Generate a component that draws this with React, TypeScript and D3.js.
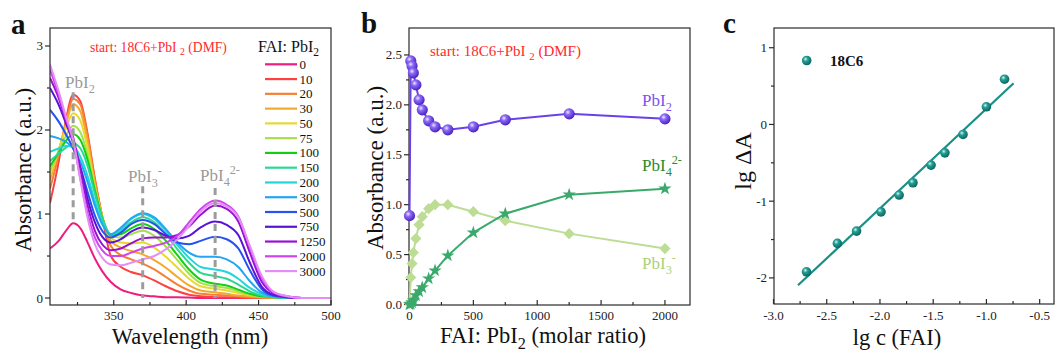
import React from 'react';
import * as d3 from 'd3';

const FONT = '"Liberation Serif", "DejaVu Serif", "Times New Roman", Times, serif';

// ---------------- Panel a data ----------------
const wavelengths = [306, 312, 317, 322, 327, 332, 337, 342, 348, 355, 362, 370, 378, 386, 394, 402, 410, 420, 428, 436, 444, 452, 460, 470, 480, 490, 500];
const faiRatios = ['0', '10', '20', '30', '50', '75', '100', '150', '200', '300', '500', '750', '1250', '2000', '3000'];
const spectrum0 = [0.59, 0.68, 0.80, 0.89, 0.83, 0.66, 0.47, 0.32, 0.19, 0.10, 0.06, 0.03, 0.02, 0.01, 0.01, 0.005, 0, 0, 0, 0, 0, 0, 0, 0, 0, 0, 0];
const spectrum10 = [1.13, 1.62, 2.12, 2.42, 2.34, 1.95, 1.42, 0.97, 0.50, 0.37, 0.31, 0.27, 0.21, 0.14, 0.08, 0.04, 0.02, 0.01, 0.01, 0.005, 0, 0, 0, 0, 0, 0, 0];
const spectrum20 = [1.30, 1.70, 2.08, 2.37, 2.30, 1.92, 1.40, 0.98, 0.62, 0.51, 0.46, 0.41, 0.34, 0.25, 0.16, 0.09, 0.05, 0.04, 0.03, 0.02, 0.01, 0.005, 0, 0, 0, 0, 0];
const spectrum30 = [1.40, 1.76, 2.07, 2.31, 2.22, 1.86, 1.36, 0.97, 0.68, 0.60, 0.56, 0.52, 0.45, 0.36, 0.25, 0.15, 0.09, 0.07, 0.05, 0.03, 0.02, 0.01, 0.005, 0, 0, 0, 0];
const spectrum50 = [1.46, 1.76, 2.02, 2.20, 2.11, 1.78, 1.33, 0.97, 0.72, 0.66, 0.65, 0.66, 0.60, 0.49, 0.36, 0.23, 0.14, 0.11, 0.09, 0.06, 0.03, 0.02, 0.01, 0, 0, 0, 0];
const spectrum75 = [1.52, 1.74, 1.93, 2.05, 1.97, 1.70, 1.30, 0.96, 0.74, 0.72, 0.76, 0.80, 0.74, 0.61, 0.45, 0.29, 0.18, 0.14, 0.12, 0.08, 0.04, 0.02, 0.01, 0, 0, 0, 0];
const spectrum100 = [1.57, 1.73, 1.87, 1.95, 1.88, 1.64, 1.28, 0.96, 0.75, 0.76, 0.83, 0.88, 0.82, 0.68, 0.51, 0.34, 0.22, 0.17, 0.15, 0.10, 0.05, 0.02, 0.01, 0, 0, 0, 0];
const spectrum150 = [1.63, 1.72, 1.79, 1.84, 1.78, 1.57, 1.24, 0.95, 0.76, 0.80, 0.90, 0.96, 0.90, 0.76, 0.58, 0.42, 0.30, 0.26, 0.23, 0.16, 0.08, 0.03, 0.01, 0, 0, 0, 0];
const spectrum200 = [1.74, 1.78, 1.81, 1.80, 1.68, 1.45, 1.15, 0.90, 0.76, 0.82, 0.94, 1.00, 0.94, 0.80, 0.63, 0.48, 0.37, 0.34, 0.31, 0.23, 0.12, 0.05, 0.02, 0.005, 0, 0, 0];
const spectrum300 = [1.93, 1.90, 1.86, 1.78, 1.62, 1.38, 1.10, 0.88, 0.76, 0.84, 0.95, 1.01, 0.96, 0.82, 0.66, 0.54, 0.49, 0.49, 0.46, 0.37, 0.20, 0.07, 0.02, 0.005, 0, 0, 0];
const spectrum500 = [2.24, 2.10, 1.95, 1.78, 1.55, 1.26, 0.98, 0.80, 0.72, 0.78, 0.88, 0.93, 0.88, 0.76, 0.66, 0.64, 0.68, 0.73, 0.70, 0.59, 0.33, 0.11, 0.03, 0.01, 0, 0, 0];
const spectrum750 = [2.50, 2.30, 2.08, 1.85, 1.55, 1.18, 0.90, 0.73, 0.66, 0.70, 0.79, 0.84, 0.81, 0.74, 0.71, 0.74, 0.84, 0.91, 0.87, 0.75, 0.42, 0.14, 0.04, 0.01, 0, 0, 0];
const spectrum1250 = [2.62, 2.38, 2.12, 1.91, 1.52, 1.10, 0.80, 0.64, 0.57, 0.59, 0.65, 0.71, 0.72, 0.72, 0.75, 0.85, 0.99, 1.10, 1.06, 0.91, 0.54, 0.20, 0.06, 0.01, 0, 0, 0];
const spectrum2000 = [2.72, 2.42, 2.13, 1.86, 1.42, 1.00, 0.72, 0.57, 0.50, 0.50, 0.54, 0.59, 0.62, 0.66, 0.74, 0.90, 1.06, 1.16, 1.11, 0.97, 0.60, 0.25, 0.07, 0.02, 0, 0, 0];
const spectrum3000 = [2.78, 2.46, 2.16, 1.88, 1.40, 0.95, 0.64, 0.48, 0.40, 0.39, 0.42, 0.46, 0.50, 0.58, 0.70, 0.86, 1.03, 1.13, 1.09, 0.96, 0.62, 0.27, 0.08, 0.02, 0, 0, 0];
const spectra = [spectrum0, spectrum10, spectrum20, spectrum30, spectrum50, spectrum75, spectrum100, spectrum150, spectrum200, spectrum300, spectrum500, spectrum750, spectrum1250, spectrum2000, spectrum3000];
const spectraColors = ['#ec1e80', '#ff4040', '#f58035', '#f2a92c', '#e6d930', '#a6e04a', '#10d010', '#2cd794', '#22d5da', '#22a6f2', '#2652f2', '#5a12d6', '#9812d2', '#d043f2', '#e68cf8'];
const bandPositions = [322, 370, 420];
const bandTops = [2.45, 1.33, 1.31];
const bandBottoms = [0.93, 0, 0];
const aXTicks = [350, 400, 450, 500];
const aXMinor = [325, 375, 425, 475];
const aYTicks = [0, 1, 2, 3];
const aYMinor = [0.5, 1.5, 2.5];

// ---------------- Panel b data ----------------
const faiB = [0, 10, 20, 30, 50, 75, 100, 150, 200, 300, 500, 750, 1250, 2000];
const absPbI2 = [0.89, 2.44, 2.39, 2.32, 2.20, 2.05, 1.95, 1.84, 1.78, 1.75, 1.78, 1.85, 1.91, 1.86];
const absPbI3 = [0.01, 0.27, 0.41, 0.52, 0.66, 0.80, 0.88, 0.96, 1.00, 1.00, 0.93, 0.84, 0.71, 0.56];
const absPbI4 = [0.0, 0.005, 0.02, 0.04, 0.09, 0.13, 0.17, 0.26, 0.34, 0.49, 0.72, 0.91, 1.10, 1.16];
const bXTicks = [0, 500, 1000, 1500, 2000];
const bXMinor = [250, 750, 1250, 1750];
const bYTicks = [0, 0.5, 1.0, 1.5, 2.0, 2.5];
const bYMinor = [0.25, 0.75, 1.25, 1.75, 2.25];

// ---------------- Panel c data ----------------
const lgC = [-2.69, -2.40, -2.22, -1.99, -1.82, -1.69, -1.52, -1.39, -1.22, -1.00, -0.83];
const lgDeltaA = [-1.92, -1.55, -1.39, -1.14, -0.92, -0.76, -0.53, -0.37, -0.13, 0.23, 0.59];
const fitSlope = 1.30;
const fitIntercept = 1.505;
const fitRange = [-2.77, -0.745];
const cXTicks = [-3.0, -2.5, -2.0, -1.5, -1.0, -0.5];
const cXMinor = [-2.75, -2.25, -1.75, -1.25, -0.75];
const cYTicks = [-2, -1, 0, 1];
const cYMinor = [-1.5, -0.5, 0.5];

type Seg = { t: string; s?: 'sub' | 'sup' };

function Rich({ x, y, segs, size, fill = '#111', anchor = 'start', weight = 'normal', transform }: any) {
  let cur = 0;
  return (
    <text x={x} y={y} fill={fill} textAnchor={anchor} transform={transform}
      style={{ fontFamily: FONT, fontSize: size, fontWeight: weight }}>
      {segs.map((sg: Seg, i: number) => {
        const target = sg.s === 'sub' ? size * 0.28 : sg.s === 'sup' ? -size * 0.42 : 0;
        const dy = target - cur;
        cur = target;
        return (
          <tspan key={i} dy={dy} style={{ fontSize: sg.s ? size * 0.72 : size }}>{sg.t}</tspan>
        );
      })}
    </text>
  );
}

function T({ x, y, size, anchor = 'start', weight = 'normal', fill = '#111', transform, children }: any) {
  return (
    <text x={x} y={y} fill={fill} textAnchor={anchor} transform={transform}
      style={{ fontFamily: FONT, fontSize: size, fontWeight: weight }}>{children}</text>
  );
}

const AX = '#2a2a2a';
const TICK_LABEL_Y = 320;
const AXIS_LABEL_Y = 344;

function Frame({ x0, x1, y0, y1 }: any) {
  return <rect x={x0} y={y0} width={x1 - x0} height={y1 - y0} fill="none" stroke={AX} strokeWidth={1.2} />;
}

export default function App() {
  // ---------- panel a ----------
  const A = { x0: 50, x1: 331, y0: 28, y1: 305 };
  const xa = d3.scaleLinear().domain([306, 500]).range([A.x0, A.x1]);
  const ya = d3.scaleLinear().domain([-0.083, 3.214]).range([A.y1, A.y0]);
  const lineA = d3.line<number>().x((_, i) => xa(wavelengths[i])).y((d) => ya(d)).curve(d3.curveMonotoneX);

  // ---------- panel b ----------
  const B = { x0: 409, x1: 690, y0: 28, y1: 305 };
  const xb = d3.scaleLinear().domain([0, 2200]).range([409.5, 690.5]);
  const yb = d3.scaleLinear().domain([0, 2.77]).range([304.5, 28]);
  const lineB = (vals: number[]) => d3.line<number>().x((_, i) => xb(faiB[i])).y((d) => yb(d))(vals) || '';
  const starPath = d3.symbol().type(d3.symbolStar).size(55)() || '';
  const diamondPath = d3.symbol().type(d3.symbolSquare).size(62)() || '';

  // ---------- panel c ----------
  const C = { x0: 774, x1: 1054, y0: 28, y1: 304 };
  const xc = d3.scaleLinear().domain([-3.0, -0.37]).range([773.5, 1053.5]);
  const yc = d3.scaleLinear().domain([-2.34, 1.257]).range([304, 28]);

  const legendY = (i: number) => 64.3 + i * 14.77;

  return (
    <svg width={1055} height={352} style={{ position: 'absolute', left: 0, top: 0, background: '#fff', fontFamily: FONT }}>
      <defs>
        <clipPath id="clipA">
          <rect x={A.x0} y={A.y0} width={A.x1 - A.x0} height={A.y1 - A.y0} />
        </clipPath>
        <radialGradient id="ballPurple" cx="38%" cy="35%" r="65%">
          <stop offset="0%" stopColor="#efeaff" />
          <stop offset="35%" stopColor="#8d6af6" />
          <stop offset="100%" stopColor="#4a22c4" />
        </radialGradient>
        <radialGradient id="ballTeal" cx="38%" cy="35%" r="65%">
          <stop offset="0%" stopColor="#d8f6f2" />
          <stop offset="35%" stopColor="#24a197" />
          <stop offset="100%" stopColor="#0c665f" />
        </radialGradient>
      </defs>
      <rect x={0} y={0} width={1055} height={352} fill="#fff" />

      {/* ================= Panel a ================= */}
      <T x={11} y={34} size={29} weight="bold">a</T>
      <g clipPath="url(#clipA)">
        {spectra.map((s, i) => (
          <path key={i} d={lineA(s) || ''} fill="none" stroke={spectraColors[i]} strokeWidth={2} />
        ))}
        {bandPositions.map((w, i) => (
          <line key={i} x1={xa(w)} x2={xa(w)} y1={ya(bandTops[i])} y2={ya(bandBottoms[i])} stroke="#9c9c9c" strokeWidth={3} strokeDasharray="7,5" />
        ))}
      </g>
      <Frame {...A} />
      {aYTicks.map((t) => (
        <g key={t}>
          <line x1={A.x0 - 5} x2={A.x0} y1={ya(t)} y2={ya(t)} stroke={AX} strokeWidth={1.2} />
          <T x={A.x0 - 7} y={ya(t) + 4.5} size={13} anchor="end" fill="#222">{t}</T>
        </g>
      ))}
      {aYMinor.map((t) => (
        <line key={t} x1={A.x0 - 3} x2={A.x0} y1={ya(t)} y2={ya(t)} stroke={AX} strokeWidth={1.2} />
      ))}
      {aXTicks.map((t) => (
        <g key={t}>
          <line x1={xa(t)} x2={xa(t)} y1={A.y1 - 5} y2={A.y1} stroke={AX} strokeWidth={1.2} />
          <T x={xa(t)} y={TICK_LABEL_Y} size={13} anchor="middle" fill="#222">{t}</T>
        </g>
      ))}
      {aXMinor.map((t) => (
        <line key={t} x1={xa(t)} x2={xa(t)} y1={A.y1 - 3} y2={A.y1} stroke={AX} strokeWidth={1.2} />
      ))}
      <T x={190} y={AXIS_LABEL_Y} size={22.5} anchor="middle">Wavelength (nm)</T>
      <T transform="translate(31,170) rotate(-90)" size={23} anchor="middle">Absorbance (a.u.)</T>
      <Rich x={90} y={51.5} size={13.6} fill="#ff2a2a" segs={[{ t: 'start: 18C6+PbI ' }, { t: '2', s: 'sub' }, { t: ' (DMF)' }]} />
      <Rich x={258} y={51.5} size={16} segs={[{ t: 'FAI: PbI' }, { t: '2', s: 'sub' }]} />
      <Rich x={65} y={88} size={17} fill="#9a9a9a" segs={[{ t: 'PbI' }, { t: '2', s: 'sub' }]} />
      <Rich x={128} y={182} size={17} fill="#9a9a9a" segs={[{ t: 'PbI' }, { t: '3', s: 'sub' }, { t: '-', s: 'sup' }]} />
      <Rich x={200} y={181} size={17} fill="#9a9a9a" segs={[{ t: 'PbI' }, { t: '4', s: 'sub' }, { t: '2-', s: 'sup' }]} />
      {faiRatios.map((r, i) => (
        <g key={r}>
          <line x1={265} x2={297} y1={legendY(i)} y2={legendY(i)} stroke={spectraColors[i]} strokeWidth={2.2} />
          <T x={299.5} y={legendY(i) + 4.5} size={13}>{r}</T>
        </g>
      ))}

      {/* ================= Panel b ================= */}
      <T x={361} y={33} size={29} weight="bold">b</T>
      <Frame {...B} />
      {bYTicks.map((t) => (
        <g key={t}>
          <line x1={B.x0 - 5} x2={B.x0} y1={yb(t)} y2={yb(t)} stroke={AX} strokeWidth={1.2} />
          <T x={B.x0 - 7} y={yb(t) + 4.5} size={13} anchor="end" fill="#222">{t.toFixed(1)}</T>
        </g>
      ))}
      {bYMinor.map((t) => (
        <line key={t} x1={B.x0 - 3} x2={B.x0} y1={yb(t)} y2={yb(t)} stroke={AX} strokeWidth={1.2} />
      ))}
      {bXTicks.map((t) => (
        <g key={t}>
          <line x1={xb(t)} x2={xb(t)} y1={B.y1 - 5} y2={B.y1} stroke={AX} strokeWidth={1.2} />
          <T x={xb(t)} y={TICK_LABEL_Y} size={13} anchor="middle" fill="#222">{t}</T>
        </g>
      ))}
      {bXMinor.map((t) => (
        <line key={t} x1={xb(t)} x2={xb(t)} y1={B.y1 - 3} y2={B.y1} stroke={AX} strokeWidth={1.2} />
      ))}
      <Rich x={543} y={AXIS_LABEL_Y - 1} size={22.5} anchor="middle" segs={[{ t: 'FAI: PbI' }, { t: '2', s: 'sub' }, { t: ' (molar ratio)' }]} />
      <T transform="translate(383,168) rotate(-90)" size={23} anchor="middle">Absorbance (a.u.)</T>
      <Rich x={430} y={56} size={15} fill="#ff2a2a" segs={[{ t: 'start: 18C6+PbI ' }, { t: '2', s: 'sub' }, { t: ' (DMF)' }]} />

      <path d={lineB(absPbI3)} fill="none" stroke="#bcdd93" strokeWidth={2} />
      <path d={lineB(absPbI4)} fill="none" stroke="#3aa96c" strokeWidth={2} />
      <path d={lineB(absPbI2)} fill="none" stroke="#6a40ea" strokeWidth={2} />
      {absPbI3.map((v, i) => (
        <path key={'d' + i} d={diamondPath} transform={`translate(${xb(faiB[i])},${yb(v)}) rotate(45)`} fill="#bcdd93" />
      ))}
      {absPbI4.map((v, i) => (
        <path key={'s' + i} d={starPath} transform={`translate(${xb(faiB[i])},${yb(v)})`} fill="#3aa96c" />
      ))}
      {absPbI2.map((v, i) => (
        <circle key={'p' + i} cx={xb(faiB[i])} cy={yb(v)} r={5.6} fill="url(#ballPurple)" />
      ))}
      <Rich x={642} y={106} size={17} fill="#7a52f0" segs={[{ t: 'PbI' }, { t: '2', s: 'sub' }]} />
      <Rich x={642} y={171} size={17} fill="#2a8a2a" segs={[{ t: 'PbI' }, { t: '4', s: 'sub' }, { t: '2-', s: 'sup' }]} />
      <Rich x={642} y={269} size={17} fill="#a9d279" segs={[{ t: 'PbI' }, { t: '3', s: 'sub' }, { t: '-', s: 'sup' }]} />

      {/* ================= Panel c ================= */}
      <T x={723} y={33} size={29} weight="bold">c</T>
      <Frame {...C} />
      {cYTicks.map((t) => (
        <g key={t}>
          <line x1={C.x0 - 5} x2={C.x0} y1={yc(t)} y2={yc(t)} stroke={AX} strokeWidth={1.2} />
          <T x={C.x0 - 7} y={yc(t) + 4.5} size={13} anchor="end" fill="#222">{t}</T>
        </g>
      ))}
      {cYMinor.map((t) => (
        <line key={t} x1={C.x0 - 3} x2={C.x0} y1={yc(t)} y2={yc(t)} stroke={AX} strokeWidth={1.2} />
      ))}
      {cXTicks.map((t) => (
        <g key={t}>
          <line x1={xc(t)} x2={xc(t)} y1={C.y1 - 5} y2={C.y1} stroke={AX} strokeWidth={1.2} />
          <T x={xc(t)} y={TICK_LABEL_Y} size={13} anchor="middle" fill="#222">{t.toFixed(1)}</T>
        </g>
      ))}
      {cXMinor.map((t) => (
        <line key={t} x1={xc(t)} x2={xc(t)} y1={C.y1 - 3} y2={C.y1} stroke={AX} strokeWidth={1.2} />
      ))}
      <T x={897} y={AXIS_LABEL_Y + 1} size={22.5} anchor="middle">lg c (FAI)</T>
      <T transform="translate(751,161) rotate(-90)" size={24} anchor="middle">lg ΔA</T>
      <line x1={xc(fitRange[0])} x2={xc(fitRange[1])} y1={yc(fitSlope * fitRange[0] + fitIntercept)} y2={yc(fitSlope * fitRange[1] + fitIntercept)} stroke="#179088" strokeWidth={2.2} />
      {lgC.map((v, i) => (
        <circle key={i} cx={xc(v)} cy={yc(lgDeltaA[i])} r={4.8} fill="url(#ballTeal)" />
      ))}
      <circle cx={806.7} cy={60.5} r={4.8} fill="url(#ballTeal)" />
      <T x={830} y={66} size={15} weight="bold">18C6</T>
    </svg>
  );
}
